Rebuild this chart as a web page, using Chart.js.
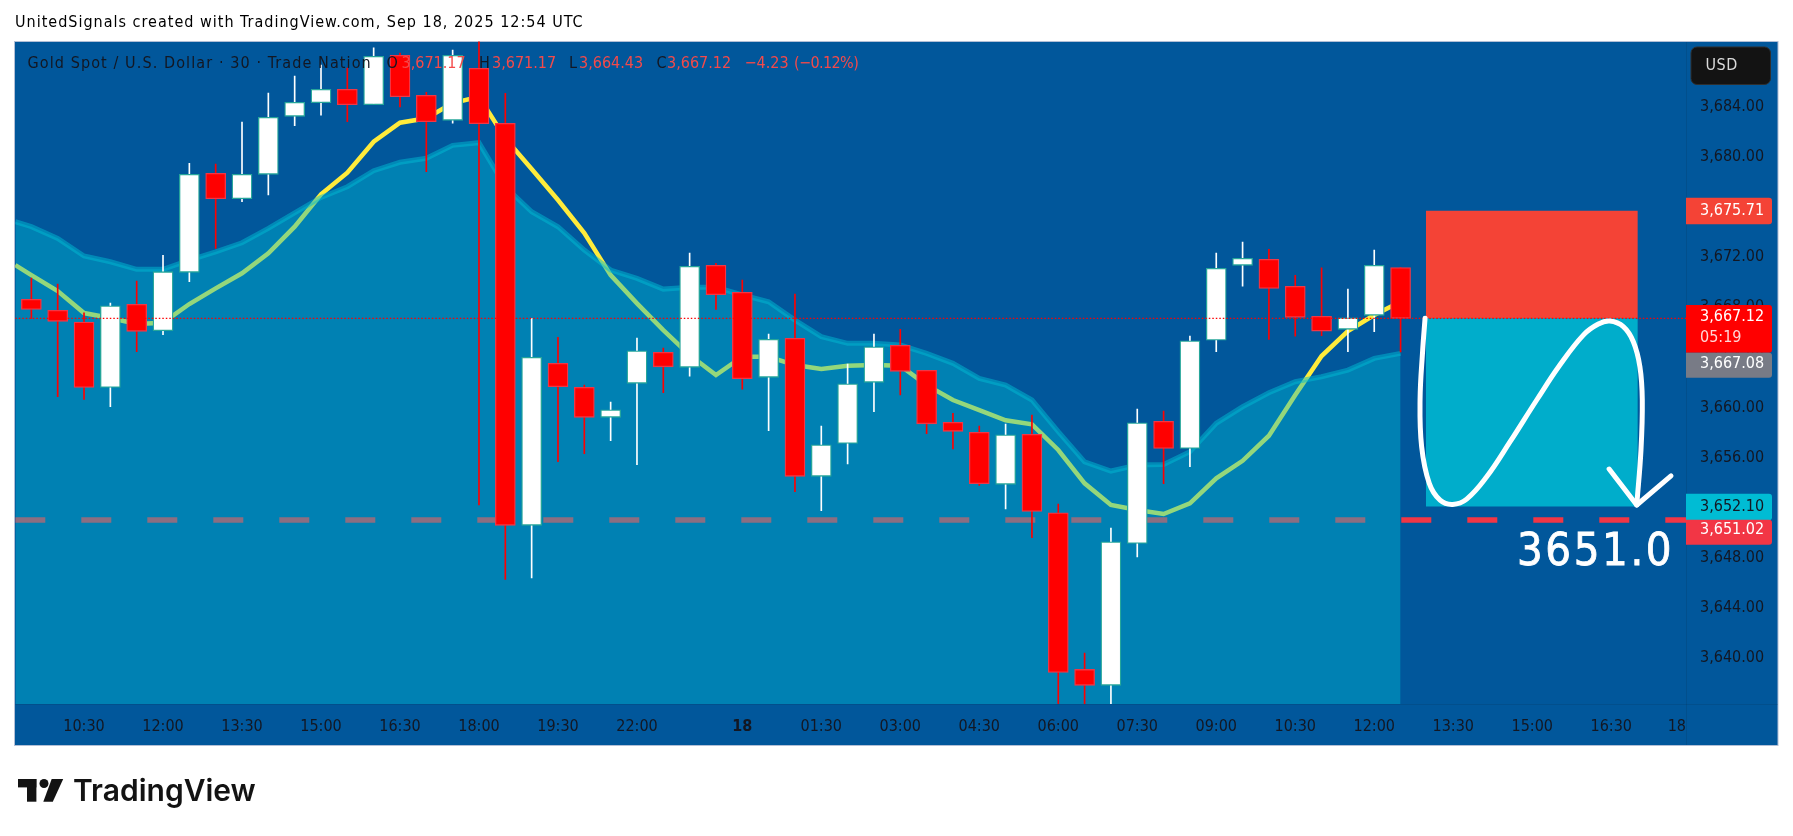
<!DOCTYPE html>
<html>
<head>
<meta charset="utf-8">
<title>Gold Spot / U.S. Dollar</title>
<style>
  html, body { margin: 0; padding: 0; background: #ffffff; }
  canvas { display: block; }
</style>
<script src="https://cdn.jsdelivr.net/npm/chart.js@4/dist/chart.umd.min.js"></script>
</head>
<body>
<canvas id="goldChart" width="1793" height="836"></canvas>
<script>
// candles, index 0 is the 09:30 bar
var opens = [3668.63,3667.76,3666.82,3661.61,3668.23,3666.13,3670.79,3678.69,3676.66,3678.61,3683.24,3684.32,3685.39,3684.16,3688.11,3684.91,3682.92,3687.07,3682.68,3650.60,3663.53,3661.61,3659.22,3661.93,3664.40,3663.21,3671.35,3669.19,3662.41,3665.52,3654.51,3657.14,3662.01,3664.96,3662.97,3658.82,3658.02,3653.87,3657.86,3651.60,3639.10,3637.83,3649.16,3658.90,3656.74,3665.38,3671.35,3671.83,3669.67,3667.28,3666.24,3667.36,3671.17];
var highs = [3670.33,3669.85,3667.56,3668.34,3670.09,3672.14,3679.49,3679.43,3682.78,3685.10,3686.45,3687.33,3687.09,3688.71,3688.29,3685.15,3688.53,3690.00,3685.07,3667.12,3665.60,3661.79,3660.44,3665.54,3664.75,3672.33,3671.51,3670.17,3665.86,3669.06,3658.52,3663.47,3665.86,3666.24,3662.97,3659.53,3658.52,3658.68,3659.40,3652.30,3640.40,3650.38,3659.88,3659.72,3665.70,3672.33,3673.21,3672.62,3670.55,3671.15,3669.45,3672.57,3671.17];
var lows = [3667.12,3660.86,3660.65,3660.06,3664.45,3665.81,3670.04,3672.70,3676.42,3676.96,3682.49,3683.34,3682.81,3684.16,3683.98,3678.82,3682.70,3652.22,3646.29,3646.41,3655.67,3656.31,3657.35,3655.43,3661.18,3662.51,3667.83,3661.47,3658.15,3653.28,3651.76,3655.49,3659.66,3661.00,3657.91,3656.69,3653.79,3651.90,3649.61,3635.50,3635.50,3635.50,3648.07,3653.92,3655.27,3664.45,3669.69,3665.44,3665.70,3665.73,3664.45,3666.05,3664.43];
var closes = [3667.83,3666.88,3661.61,3668.12,3666.08,3670.84,3678.61,3676.66,3678.61,3683.16,3684.36,3685.39,3684.16,3688.03,3684.80,3682.81,3688.11,3682.65,3650.60,3664.00,3661.66,3659.22,3659.82,3664.53,3663.25,3671.27,3669.00,3662.30,3665.44,3654.51,3657.03,3661.90,3664.85,3662.89,3658.70,3658.10,3653.92,3657.83,3651.71,3638.86,3637.83,3649.29,3658.78,3656.74,3665.33,3671.11,3671.91,3669.51,3667.20,3666.10,3667.16,3671.35,3667.12];

// indicator lines, first value sits at the left edge of the pane
var lineIndex = [-0.61,0,1,2,3,4,5,6,7,8,9,10,11,12,13,14,15,16,17,18,19,20,21,22,23,24,25,26,27,28,29,30,31,32,33,34,35,36,37,38,39,40,41,42,43,44,45,46,47,48,49,50,51,52];
var maValues = [3671.37,3670.57,3669.30,3667.54,3667.14,3666.66,3666.77,3668.26,3669.51,3670.71,3672.30,3674.43,3677.01,3678.74,3681.21,3682.73,3683.08,3684.30,3684.80,3681.48,3679.03,3676.56,3673.92,3670.57,3668.31,3666.18,3664.19,3662.59,3664.05,3664.05,3663.39,3663.07,3663.33,3663.39,3663.33,3661.79,3660.60,3659.80,3658.98,3658.66,3656.61,3653.95,3652.22,3651.82,3651.50,3652.35,3654.35,3655.75,3657.75,3661.00,3664.11,3666.10,3667.38,3668.44];
var bandValues = [3674.83,3674.43,3673.50,3672.09,3671.63,3671.03,3671.03,3671.77,3672.43,3673.15,3674.30,3675.54,3676.77,3677.62,3678.90,3679.57,3679.89,3680.92,3681.13,3677.62,3675.62,3674.43,3672.57,3670.97,3670.31,3669.45,3669.59,3669.59,3668.98,3668.44,3666.98,3665.65,3665.12,3665.12,3664.99,3664.32,3663.53,3662.33,3661.79,3660.60,3658.07,3655.67,3654.93,3655.41,3655.46,3656.47,3658.74,3660.06,3661.18,3662.06,3662.46,3662.99,3663.92,3664.32];

// position tool and hand drawn path
var lastPrice = 3667.12;
var targetLine = 3651.02;
var stopPrice = 3675.71;
var targetPrice = 3652.10;
var boxIndex = [52.96, 61.01];
var pathIndex = [52.93,52.84,52.74,52.80,53.09,53.50,53.98,54.51,55.27,56.16,57.17,58.05,58.94,59.51,59.95,60.46,60.84,61.09,61.18,61.13,60.97];
var pathPrice = [3667.12,3664.59,3660.60,3656.87,3653.95,3652.61,3652.27,3652.69,3654.47,3657.27,3660.60,3663.39,3665.78,3666.66,3666.90,3666.45,3665.25,3663.25,3660.60,3656.61,3652.22];
var arrowIndex = [59.92,60.97,62.27];
var arrowPrice = [3655.09,3652.22,3654.55];

// axes
var xTickIndex = [2,5,8,11,14,17,20,23,27,30,33,36,39,42,45,48,51,54,57,60,62.49];
var xTickLabels = ["10:30","12:00","13:30","15:00","16:30","18:00","19:30","22:00","18","01:30","03:00","04:30","06:00","07:30","09:00","10:30","12:00","13:30","15:00","16:30","18"];
var yTickValues = [3640,3644,3648,3652,3656,3660,3664,3668,3672,3676,3680,3684];

var BG = "#01579b";
var UP_BORDER = "#26a69a";
var DOWN_BORDER = "#f23645";
var RED = "#ff0000";
var INK = "#131722";
var FONT = '"DejaVu Sans Condensed", "DejaVu Sans", sans-serif';
var FONT_SIZE = 16;

function points(xs, ys) {
  return xs.map(function (x, i) { return { x: x, y: ys[i] }; });
}
function isUp(i) {
  return closes[i] >= opens[i];
}
function flatLine(value) {
  return [{ x: -0.61, y: value }, { x: 62.84, y: value }];
}

var decorations = {
  id: "decorations",
  beforeDraw: function (chart) {
    var c = chart.ctx;
    c.fillStyle = BG;
    c.fillRect(15, 41, 1763, 704.5);
    c.strokeStyle = "#b2bfd6";
    c.lineWidth = 1;
    c.strokeRect(14.5, 41.5, 1763.5, 704);
  },
  afterDraw: function (chart) {
    var c = chart.ctx;
    var y = chart.scales.y;

    // axis separators
    c.strokeStyle = "rgba(19,23,34,0.12)";
    c.beginPath();
    c.moveTo(1686.5, 42); c.lineTo(1686.5, 745);
    c.moveTo(15, 704.5); c.lineTo(1778, 704.5);
    c.stroke();

    c.textBaseline = "middle";
    c.textAlign = "left";

    function text(s, x, yy, color, font, spacing) {
      c.letterSpacing = (spacing || 0) + "px";
      c.fillStyle = color;
      c.font = font;
      c.fillText(s, x, yy);
      c.letterSpacing = "0px";
    }

    // header
    text("UnitedSignals created with TradingView.com, Sep 18, 2025 12:54 UTC", 15, 22.5, "#000000", FONT_SIZE + "px " + FONT, 1);

    // symbol line
    var sym = FONT_SIZE + "px " + FONT;
    var down = "#f44a4a";
    text("Gold Spot / U.S. Dollar · 30 · Trade Nation", 27.5, 63.5, INK, sym, 1.1);
    text("O", 386.5, 63.5, INK, sym);
    text("3,671.17", 401.5, 63.5, down, sym);
    text("H", 479, 63.5, INK, sym);
    text("3,671.17", 492, 63.5, down, sym);
    text("L", 569, 63.5, INK, sym);
    text("3,664.43", 579, 63.5, down, sym);
    text("C", 656.5, 63.5, INK, sym);
    text("3,667.12", 667, 63.5, down, sym);
    text("−4.23", 744.5, 63.5, down, sym);
    text("(−0.12%)", 794, 63.5, down, sym, -0.6);

    // target text
    text("3651.0", 1517, 553.5, "#ffffff", "45px " + FONT, 2.6);
    c.strokeStyle = "#ffffff";
    c.lineWidth = 0.8;
    c.letterSpacing = "2.6px";
    c.strokeText("3651.0", 1517, 553.5);
    c.letterSpacing = "0px";

    // price badges, two of them pushed off their level so they do not overlap
    function badge(top, bottom, color) {
      c.fillStyle = color;
      c.beginPath();
      c.roundRect(1686, top, 86, bottom - top, [0, 3, 3, 0]);
      c.fill();
    }
    var badgeFont = FONT_SIZE + "px " + FONT;
    var stopY = y.getPixelForValue(stopPrice);
    badge(stopY - 13, stopY + 13.5, "#f44336");
    text("3,675.71", 1700, stopY, "#ffffff", badgeFont);

    var lastY = y.getPixelForValue(lastPrice);
    badge(lastY - 13.3, lastY + 34.4, RED);
    text("3,667.12", 1700, lastY - 1, "#ffffff", badgeFont);
    text("05:19", 1700, lastY + 20, "#ffd6d6", badgeFont);
    badge(lastY + 34.4, lastY + 59.4, "#787b86");
    text("3,667.08", 1700, lastY + 45.5, "#ffffff", badgeFont);

    var targetY = y.getPixelForValue(targetPrice);
    badge(targetY - 12.7, targetY + 13.7, "#00bcd4");
    text("3,652.10", 1700, targetY + 0.5, INK, badgeFont);
    var lineY = y.getPixelForValue(targetLine);
    badge(lineY - 0.3, lineY + 24.7, "#f23645");
    text("3,651.02", 1700, lineY + 10, "#ffffff", badgeFont);

    // currency button
    c.fillStyle = "#131313";
    c.strokeStyle = "#2e2e2e";
    c.lineWidth = 1;
    c.beginPath();
    c.roundRect(1691, 47, 79.5, 37.5, 6);
    c.fill();
    c.stroke();
    text("USD", 1705.5, 65.5, "#dbdbdb", badgeFont, 0.5);

    // footer logo
    c.fillStyle = "#131313";
    c.fillRect(18, 779, 18.4, 8.4);
    c.fillRect(27, 779, 9.4, 22.7);
    c.beginPath();
    c.arc(44, 783.5, 4.5, 0, Math.PI * 2);
    c.fill();
    c.beginPath();
    c.moveTo(51.7, 779); c.lineTo(63.2, 779); c.lineTo(52.8, 801.7); c.lineTo(43.3, 801.7);
    c.closePath();
    c.fill();
    text("TradingView", 73, 791.5, "#131313", "600 30px Inter, sans-serif");
  }
};

var ctx = document.getElementById("goldChart");
var goldChart = new Chart(ctx, {
  type: "bar",
  data: {
    datasets: [
      {
        type: "line", order: 100,
        data: flatLine(targetLine),
        borderColor: "#f23645", borderWidth: 5.5, borderDash: [30, 36], pointRadius: 0
      },
      {
        type: "line", order: 90,
        data: points(lineIndex, maValues),
        borderColor: "#ffeb3b", borderWidth: 4.5, pointRadius: 0, tension: 0
      },
      {
        type: "line", order: 80,
        data: points(lineIndex, bandValues),
        borderColor: "rgba(0,188,212,0.5)", borderWidth: 5, pointRadius: 0, tension: 0,
        backgroundColor: "rgba(0,188,212,0.42)", fill: "start"
      },
      {
        type: "line", order: 70,
        data: points(boxIndex, [stopPrice, stopPrice]),
        borderWidth: 0, pointRadius: 0,
        backgroundColor: "#f44336", fill: { value: lastPrice }
      },
      {
        type: "line", order: 69,
        data: points(boxIndex, [targetPrice, targetPrice]),
        borderWidth: 0, pointRadius: 0,
        backgroundColor: "rgba(0,188,212,0.85)", fill: { value: lastPrice }
      },
      {
        order: 60, grouped: false, barThickness: 1, borderWidth: 0,
        data: highs.map(function (h, i) { return { x: i, y: [lows[i], h] }; }),
        backgroundColor: highs.map(function (h, i) { return isUp(i) ? "#ffffff" : RED; })
      },
      {
        order: 50, grouped: false, barThickness: 20, borderWidth: 1.3, borderSkipped: false,
        data: opens.map(function (o, i) { return { x: i, y: [o, closes[i]] }; }),
        backgroundColor: opens.map(function (o, i) { return isUp(i) ? "#ffffff" : RED; }),
        borderColor: opens.map(function (o, i) { return isUp(i) ? UP_BORDER : DOWN_BORDER; })
      },
      {
        type: "line", order: 40,
        data: flatLine(lastPrice),
        borderColor: RED, borderWidth: 1.3, borderDash: [1.5, 2], pointRadius: 0
      },
      {
        type: "line", order: 30,
        data: points(pathIndex, pathPrice),
        borderColor: "#ffffff", borderWidth: 5, pointRadius: 0, tension: 0.4,
        borderCapStyle: "round", borderJoinStyle: "round"
      },
      {
        type: "line", order: 29,
        data: points(arrowIndex, arrowPrice),
        borderColor: "#ffffff", borderWidth: 5, pointRadius: 0, tension: 0,
        borderCapStyle: "round", borderJoinStyle: "round"
      }
    ]
  },
  options: {
    responsive: false,
    animation: false,
    devicePixelRatio: 1,
    layout: { padding: { left: 15.3, top: 41.5, right: 15, bottom: 90.5 } },
    plugins: { legend: { display: false }, tooltip: { enabled: false } },
    scales: {
      x: {
        type: "linear",
        offset: false,
        min: -0.61,
        max: 62.84,
        afterBuildTicks: function (scale) {
          scale.ticks = xTickIndex.map(function (v) { return { value: v }; });
        },
        afterFit: function (scale) { scale.height = 41.5; },
        grid: { display: false, drawTicks: false },
        border: { display: false },
        ticks: {
          autoSkip: false, maxRotation: 0, minRotation: 0, padding: 13, color: INK,
          font: function (c) {
            var bold = c.tick && c.tick.value === 27;
            return { family: FONT, size: FONT_SIZE, weight: bold ? "bold" : "normal" };
          },
          callback: function (value) {
            return xTickLabels[xTickIndex.indexOf(value)];
          }
        }
      },
      y: {
        position: "right",
        min: 3636.34,
        max: 3689.21,
        afterBuildTicks: function (scale) {
          scale.ticks = yTickValues.map(function (v) { return { value: v }; });
        },
        afterFit: function (scale) { scale.width = 92; },
        grid: { display: false, drawTicks: false },
        border: { display: false },
        ticks: {
          autoSkip: false, padding: 14, color: INK,
          font: { family: FONT, size: FONT_SIZE },
          callback: function (value) {
            return value.toLocaleString("en-US", { minimumFractionDigits: 2 });
          }
        }
      }
    }
  },
  plugins: [decorations]
});
</script>
</body>
</html>
